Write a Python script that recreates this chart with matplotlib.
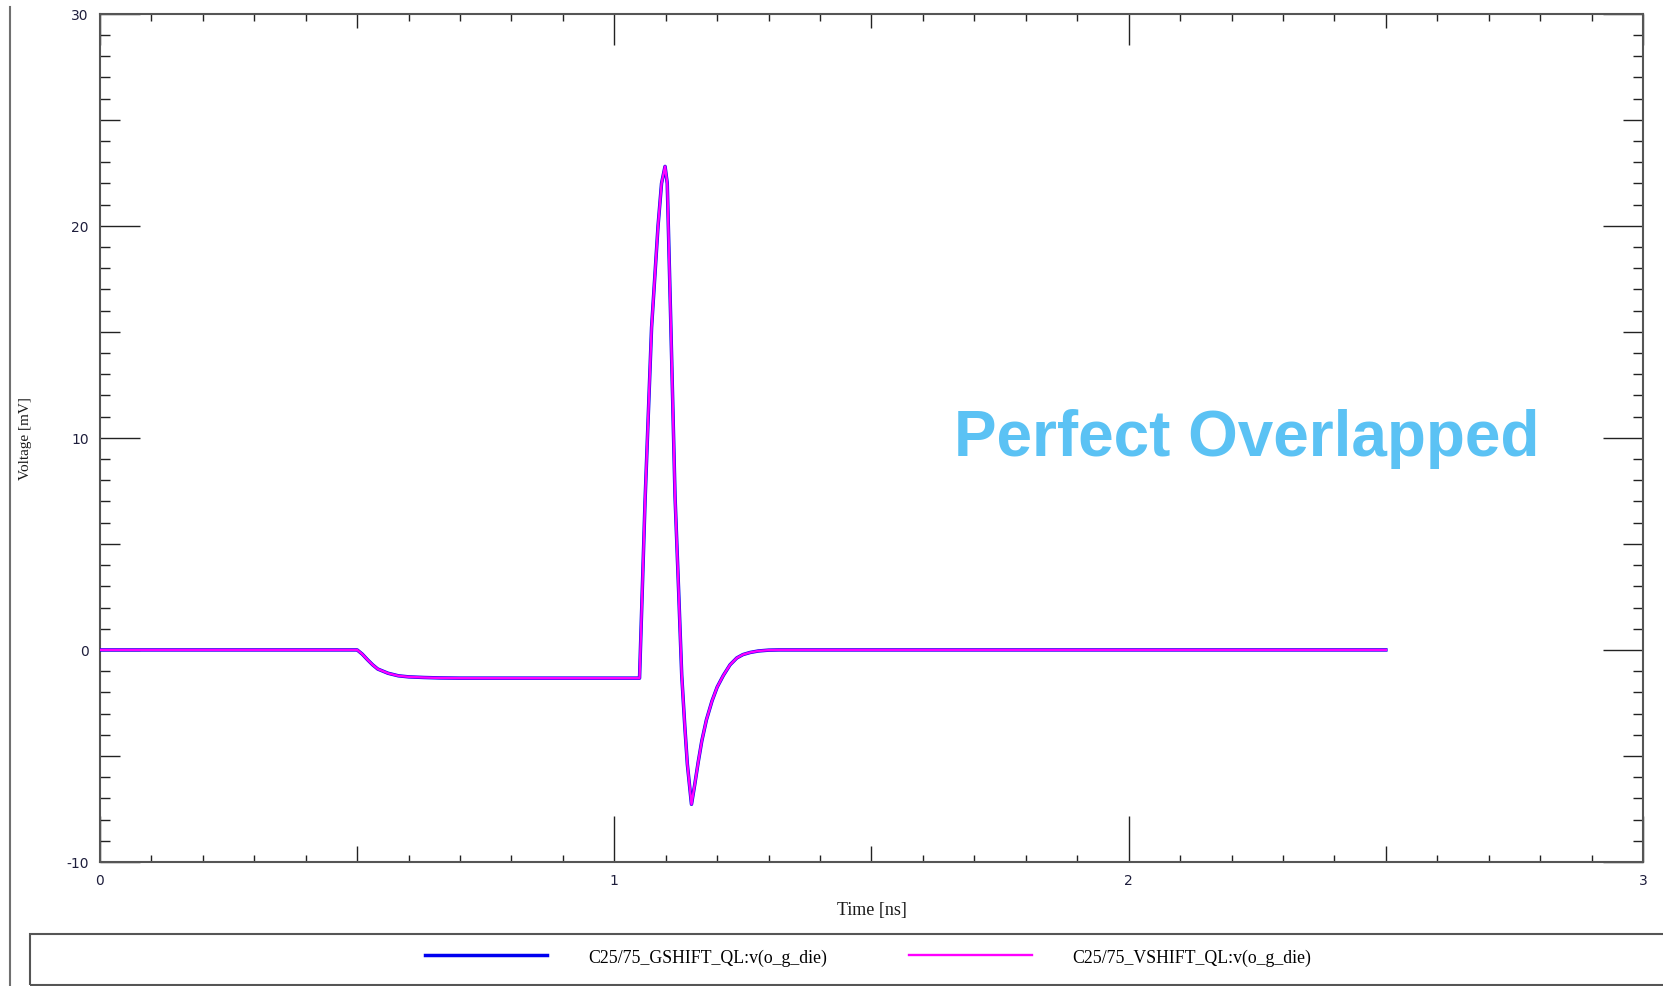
import numpy as np
import matplotlib
matplotlib.use("Agg")
import matplotlib.pyplot as plt
from matplotlib.ticker import MultipleLocator, FixedLocator
from matplotlib.lines import Line2D
from matplotlib.patches import Rectangle

# ---- data ----
time_ns = [0.0, 0.5, 0.51, 0.52, 0.53, 0.54, 0.56, 0.58, 0.60, 0.63, 0.66, 0.70,
           0.80, 0.90, 1.00, 1.049, 1.0597, 1.0724, 1.085, 1.0918, 1.0986, 1.1029,
           1.1095, 1.118, 1.125, 1.131, 1.137, 1.142, 1.150, 1.156, 1.163, 1.170,
           1.179, 1.19, 1.20, 1.212, 1.225, 1.238, 1.25, 1.264, 1.28, 1.30, 1.32, 2.5]
gshift_mv = [0.0, 0.0, -0.2, -0.46, -0.7, -0.9, -1.1, -1.22, -1.27, -1.30, -1.32, -1.33,
             -1.33, -1.33, -1.33, -1.33, 7.0, 15.2, 20.0, 22.0, 22.8, 22.0,
             15.66, 7.25, 2.8, -1.18, -3.6, -5.4, -7.28, -6.4, -5.3, -4.3,
             -3.3, -2.4, -1.75, -1.2, -0.7, -0.38, -0.22, -0.12, -0.05, -0.01, 0.0, 0.0]
vshift_mv = [0.0, 0.0, -0.2, -0.46, -0.7, -0.9, -1.1, -1.22, -1.27, -1.30, -1.32, -1.33,
             -1.33, -1.33, -1.33, -1.33, 7.0, 15.2, 20.0, 22.0, 22.8, 22.0,
             15.66, 7.25, 2.8, -1.18, -3.6, -5.4, -7.28, -6.4, -5.3, -4.3,
             -3.3, -2.4, -1.75, -1.2, -0.7, -0.38, -0.22, -0.12, -0.05, -0.01, 0.0, 0.0]
series_names = ["C25/75_GSHIFT_QL:v(o_g_die)", "C25/75_VSHIFT_QL:v(o_g_die)"]
x_major = [0, 0.5, 1, 1.5, 2, 2.5, 3]
x_labels = ["0", "", "1", "", "2", "", "3"]
y_major = [-10, -5, 0, 5, 10, 15, 20, 25, 30]
y_labels = ["-10", "", "0", "", "10", "", "20", "", "30"]

W, H = 1663, 987
fig = plt.figure(figsize=(W / 100, H / 100), dpi=100)
fig.patch.set_facecolor("white")

ax_l, ax_r, ax_t, ax_b = 100, 1643, 14.7, 863
ax = fig.add_axes([ax_l / W, 1 - ax_b / H, (ax_r - ax_l) / W, (ax_b - ax_t) / H])

l1, = ax.plot(time_ns, gshift_mv, color="#0000F0", lw=2.5, label=series_names[0], zorder=3)
l2, = ax.plot(time_ns, vshift_mv, color="#FF00FF", lw=1.7, label=series_names[1], zorder=4)

ax.set_xlim(0, 3)
ax.set_ylim(-10, 30)

for s in ax.spines.values():
    s.set_color("#555555")
    s.set_linewidth(1.5)

ax.xaxis.set_major_locator(FixedLocator(x_major))
ax.set_xticklabels(x_labels)
ax.xaxis.set_minor_locator(MultipleLocator(0.1))
ax.yaxis.set_major_locator(FixedLocator(y_major))
ax.set_yticklabels(y_labels)
ax.yaxis.set_minor_locator(MultipleLocator(1))

lab_color = "#1e1e3c"
ax.tick_params(which="both", direction="in", top=True, right=True, bottom=True, left=True,
               color="#222222", width=1.0, labelcolor=lab_color, labelsize=10)
ax.tick_params(axis="x", which="minor", length=5.0)
ax.tick_params(axis="y", which="minor", length=7.2)
ax.tick_params(axis="x", which="major", pad=8)
ax.tick_params(axis="y", which="major", pad=8)

pt = 72 / 100.0  # points per pixel
for t in ax.xaxis.get_major_ticks():
    v = t.get_loc()
    if abs(v - round(v)) < 1e-9:
        t.tick1line.set_markersize(46 * pt)
        t.tick2line.set_markersize(31 * pt)
    else:
        t.tick1line.set_markersize(16 * pt)
        t.tick2line.set_markersize(14 * pt)
for t in ax.yaxis.get_major_ticks():
    v = t.get_loc()
    if abs(v % 10) < 1e-9:
        t.tick1line.set_markersize(40 * pt)
        t.tick2line.set_markersize(40 * pt)
    else:
        t.tick1line.set_markersize(20 * pt)
        t.tick2line.set_markersize(20 * pt)

serif = ["Liberation Serif", "DejaVu Serif"]
ax.set_xlabel("Time [ns]", fontsize=13, family=serif, color="#1a1a1a")
ax.xaxis.set_label_coords(0.5003, -0.046)
ax.xaxis.label.set_va("top")
ax.set_ylabel("Voltage [mV]", fontsize=11, family=serif, color="#1a1a1a")
ax.yaxis.set_label_coords(-0.044, 0.5)

ax.text(0.7434, 0.48, "Perfect Overlapped", transform=ax.transAxes,
        ha="center", va="baseline", fontsize=46, fontweight="bold",
        family=["Liberation Sans", "DejaVu Sans"], color="#5BC2F4")

# outer frame pieces
fig.add_artist(Line2D([10 / W, 10 / W], [0, 1 - 8 / H], transform=fig.transFigure,
                      color="#707070", lw=1.5))
fig.add_artist(Rectangle((30 / W, 1 - 986 / H), 1.2, 51 / H, transform=fig.transFigure,
                         fill=False, edgecolor="#555555", lw=1.5))

fig.legend(handles=[l1, l2], labels=series_names, loc="center",
           bbox_to_anchor=(868 / W, 1 - 958 / H), ncol=2, frameon=False,
           prop={"family": serif, "size": 12.8}, handlelength=6.9,
           handletextpad=2.3, columnspacing=4.6)

fig.savefig("out.png", dpi=100, facecolor="white")
